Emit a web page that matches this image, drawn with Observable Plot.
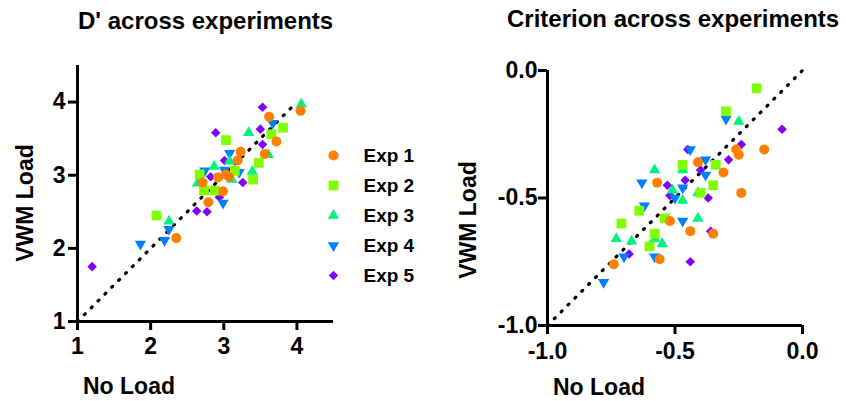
<!DOCTYPE html>
<html><head><meta charset="utf-8">
<script src="https://cdn.jsdelivr.net/npm/d3@7"></script>
<script src="https://cdn.jsdelivr.net/npm/@observablehq/plot@0.6"></script>
<style>
html,body{margin:0;padding:0;background:#fff;}
#root{position:relative;width:846px;height:401px;overflow:hidden;font-family:"Liberation Sans",Arial,sans-serif;font-weight:bold;color:#000;background:#fff;}
.abs{position:absolute;white-space:nowrap;line-height:1;}
.plot{position:absolute;top:0;}
</style></head><body>
<div id="root">
  <div class="abs" style="left:78px;top:9px;font-size:24px">D' across experiments</div>
  <div class="abs" style="left:507px;top:7px;font-size:24px">Criterion across experiments</div>
  <div class="abs" style="left:83px;top:375px;font-size:23px">No Load</div>
  <div class="abs" style="left:553px;top:376px;font-size:23px">No Load</div>
  <div class="abs" style="left:25px;top:203px;font-size:23px;transform:translate(-50%,-50%) rotate(-90deg)">VWM Load</div>
  <div class="abs" style="left:468px;top:220px;font-size:23px;transform:translate(-50%,-50%) rotate(-90deg)">VWM Load</div>
  <div id="left" class="plot" style="left:0px"></div>
  <div id="right" class="plot" style="left:430px"></div>
  <div id="legend" class="plot" style="left:318px;top:140px"></div>
</div>
<script>
// ---- data ----
const experiments = ["Exp 1", "Exp 2", "Exp 3", "Exp 4", "Exp 5"];

// D' : [No Load, VWM Load]
const dprimeExp1 = [[4.05,3.88],[3.62,3.80],[3.72,3.46],[3.56,3.29],[3.23,3.32],[3.19,3.20],[2.92,2.97],[3.03,3.01],[3.07,2.98],[2.71,2.90],[2.99,2.78],[2.79,2.63],[2.35,2.14]];
const dprimeExp2 = [[3.81,3.65],[3.65,3.56],[3.03,3.48],[3.48,3.17],[3.15,3.06],[3.40,2.94],[2.67,3.01],[2.73,2.79],[2.88,2.79],[2.08,2.45]];
const dprimeExp3 = [[4.06,3.97],[3.34,3.58],[3.61,3.28],[3.39,3.05],[2.87,3.12],[3.08,3.19],[3.11,2.94],[2.64,2.89],[2.25,2.37]];
const dprimeExp4 = [[3.67,3.71],[3.08,3.30],[2.74,3.06],[2.99,2.62],[3.21,3.04],[3.01,3.07],[1.86,2.06],[2.19,2.11],[2.25,2.26]];
const dprimeExp5 = [[3.53,3.93],[2.89,3.58],[3.50,3.63],[3.53,3.42],[3.01,3.20],[3.26,2.90],[2.63,2.51],[2.77,2.50],[1.20,1.75],[2.82,2.98],[2.94,2.70]];

// Criterion : [No Load, VWM Load]
const critExp1 = [[-0.15,-0.31],[-0.26,-0.31],[-0.25,-0.33],[-0.24,-0.48],[-0.31,-0.40],[-0.41,-0.36],[-0.57,-0.44],[-0.52,-0.59],[-0.44,-0.63],[-0.35,-0.64],[-0.56,-0.74],[-0.74,-0.76]];
const critExp2 = [[-0.18,-0.07],[-0.30,-0.16],[-0.47,-0.37],[-0.34,-0.37],[-0.35,-0.45],[-0.40,-0.48],[-0.64,-0.55],[-0.71,-0.60],[-0.54,-0.58],[-0.58,-0.64],[-0.60,-0.69]];
const critExp3 = [[-0.25,-0.20],[-0.58,-0.39],[-0.47,-0.39],[-0.51,-0.47],[-0.47,-0.51],[-0.41,-0.58],[-0.73,-0.66],[-0.67,-0.67],[-0.58,-0.66],[-0.55,-0.68],[-0.41,-0.48]];
const critExp4 = [[-0.30,-0.19],[-0.44,-0.31],[-0.38,-0.35],[-0.38,-0.41],[-0.63,-0.44],[-0.47,-0.46],[-0.50,-0.50],[-0.62,-0.53],[-0.47,-0.59],[-0.58,-0.73],[-0.70,-0.73],[-0.78,-0.83]];
const critExp5 = [[-0.08,-0.23],[-0.24,-0.29],[-0.29,-0.35],[-0.40,-0.39],[-0.46,-0.43],[-0.53,-0.45],[-0.52,-0.49],[-0.37,-0.50],[-0.45,-0.31],[-0.36,-0.63],[-0.44,-0.75],[-0.68,-0.72]];

const dprimeDomain = [1, 4.5];
const dprimeTicks = [1, 2, 3, 4];
const dprimeDiag = [1, 4];
const critDomain = [-1, 0];
const critTicks = [-1, -0.5, 0];
const critDiag = [-1, 0];

// ---- styles ----
const colors = ["#FF8000", "#80FF00", "#00F27F", "#0080FF", "#8000FF"];
const downTriangle = {
  draw(context, size) {
    const y = -Math.sqrt(size / (Math.sqrt(3) * 3));
    context.moveTo(0, -y * 2);
    context.lineTo(-Math.sqrt(3) * y, y);
    context.lineTo(Math.sqrt(3) * y, y);
    context.closePath();
  }
};
const symbols = ["circle", "square", "triangle", downTriangle, "diamond2"];
const radii = [5, 5.5, 4.2, 4.2, 4.3];
const FONT = '"Liberation Sans", Arial, sans-serif';

const rows = (pairs) => pairs.map(([x, y]) => ({x, y}));
const dprimeSets = [dprimeExp1, dprimeExp2, dprimeExp3, dprimeExp4, dprimeExp5];
const critSets = [critExp1, critExp2, critExp3, critExp4, critExp5];

function panel(sets, domain, ticks, diag, fmt, layout) {
  const marks = [];
  marks.push(Plot.line(diag.map(v => ({x: v, y: v})), {x: "x", y: "y", stroke: "black", strokeWidth: 3.2, strokeDasharray: "1.2,8.5", strokeLinecap: "round"}));
  for (let i = sets.length - 1; i >= 0; i--) {
    marks.push(Plot.dot(rows(sets[i]), {x: "x", y: "y", fill: colors[i], stroke: "none", symbol: symbols[i], r: radii[i]}));
  }
  marks.push(Plot.ruleX([domain[0]], {strokeWidth: 3, stroke: "black"}));
  marks.push(Plot.ruleY([domain[0]], {strokeWidth: 3, stroke: "black"}));
  marks.push(Plot.axisX(ticks, {tickSize: 9, tickPadding: layout.xPad, strokeWidth: 3, fontSize: 23, fontWeight: "bold", fill: "black", tickFormat: fmt, label: null}));
  marks.push(Plot.axisY(ticks, {tickSize: 9, tickPadding: layout.yPad, strokeWidth: 3, fontSize: 23, fontWeight: "bold", fill: "black", tickFormat: fmt, label: null}));
  return Plot.plot({
    width: layout.width, height: 401,
    marginLeft: layout.ml, marginRight: layout.mr, marginTop: layout.mt, marginBottom: layout.mb,
    x: {domain, label: null},
    y: {domain, label: null},
    style: {background: "transparent", fontFamily: FONT, fontWeight: "bold", fontSize: "23px", overflow: "visible"},
    marks
  });
}

document.getElementById("left").append(panel(dprimeSets, dprimeDomain, dprimeTicks, dprimeDiag, d => String(d),
  {width: 340, ml: 77, mr: 7, mt: 65, mb: 80, xPad: 7, yPad: 3}));
document.getElementById("right").append(panel(critSets, critDomain, critTicks, critDiag, d => d.toFixed(1),
  {width: 416, ml: 117, mr: 44, mt: 70, mb: 76, xPad: 8, yPad: 1}));

// legend
const legendMarks = [];
experiments.forEach((name, i) => {
  legendMarks.push(Plot.dot([name], {y: d => d, frameAnchor: "left", dx: 15, fill: colors[i], stroke: "none", symbol: symbols[i], r: radii[i]}));
});
legendMarks.push(Plot.text(experiments, {y: d => d, text: d => d, frameAnchor: "left", dx: 45, textAnchor: "start", fontSize: 19, fontWeight: "bold", fill: "black"}));
document.getElementById("legend").append(Plot.plot({
  width: 120, height: 160, margin: 0,
  y: {type: "point", domain: experiments, range: [15, 135], padding: 0, axis: null},
  style: {background: "transparent", fontFamily: FONT, fontWeight: "bold", overflow: "visible"},
  marks: legendMarks
}));
</script>
</body></html>
